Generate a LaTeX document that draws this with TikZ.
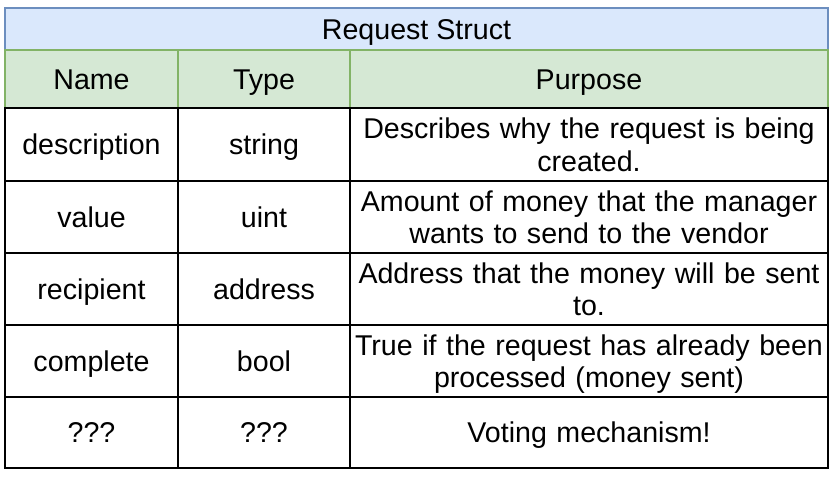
\documentclass[tikz,border=0pt]{standalone}
\usepackage{fontspec}
\setmainfont{Liberation Sans}
\definecolor{hdrfill}{HTML}{DAE8FC}
\definecolor{hdrline}{HTML}{6C8EBF}
\definecolor{grnfill}{HTML}{D5E8D4}
\definecolor{grnline}{HTML}{82B366}
\begin{document}
\begin{tikzpicture}[x=1pt,y=-1pt,
  txt/.style={font=\fontsize{28.6}{32.5}\selectfont, inner sep=0pt, align=center, text height=20.5pt, text depth=0pt},
  titlebox/.style={txt, draw=hdrline, fill=hdrfill, line width=2pt},
  headbox/.style={txt, draw=grnline, fill=grnfill, line width=2pt},
  cellbox/.style={txt, draw=black, line width=2.6pt},
  twoline/.style={text depth=32.5pt},
  colA/.style={minimum width=173pt},
  colB/.style={minimum width=172pt},
  colC/.style={minimum width=478pt, text width=476pt},
]
\useasboundingbox[fill=white] (0,0) rectangle (840,485);
% title
\node[titlebox, minimum width=823pt, minimum height=42pt] (title) at (416.5,29) {Request Struct};
% header row
\node[headbox, colA, minimum height=58pt] (hname) at (91.5,79) {Name};
\node[headbox, colB, minimum height=58pt] (htype) at (264,79) {Type};
\node[headbox, colC, minimum height=58pt] (hpurp) at (589,79) {Purpose};
% rows
\node[cellbox, colA, minimum height=73pt] (n1) at (91.5,144.5) {description};
\node[cellbox, colB, minimum height=73pt] (t1) at (264,144.5) {string};
\node[cellbox, colC, twoline, minimum height=73pt] (p1) at (589,144.5) {Describes why the request is being\\created.};
\node[cellbox, colA, minimum height=72pt] (n2) at (91.5,217) {value};
\node[cellbox, colB, minimum height=72pt] (t2) at (264,217) {uint};
\node[cellbox, colC, twoline, minimum height=72pt] (p2) at (589,217) {Amount of money that the manager\\wants to send to the vendor};
\node[cellbox, colA, minimum height=72pt] (n3) at (91.5,289) {recipient};
\node[cellbox, colB, minimum height=72pt] (t3) at (264,289) {address};
\node[cellbox, colC, twoline, minimum height=72pt] (p3) at (589,289) {Address that the money will be sent\\to.};
\node[cellbox, colA, minimum height=72pt] (n4) at (91.5,361) {complete};
\node[cellbox, colB, minimum height=72pt] (t4) at (264,361) {bool};
\node[cellbox, colC, twoline, minimum height=72pt] (p4) at (589,361) {True if the request has already been\\processed (money sent)};
\node[cellbox, colA, minimum height=71pt] (n5) at (91.5,432.5) {???};
\node[cellbox, colB, minimum height=71pt] (t5) at (264,432.5) {???};
\node[cellbox, colC, minimum height=71pt] (p5) at (589,432.5) {Voting mechanism!};
\end{tikzpicture}
\end{document}
